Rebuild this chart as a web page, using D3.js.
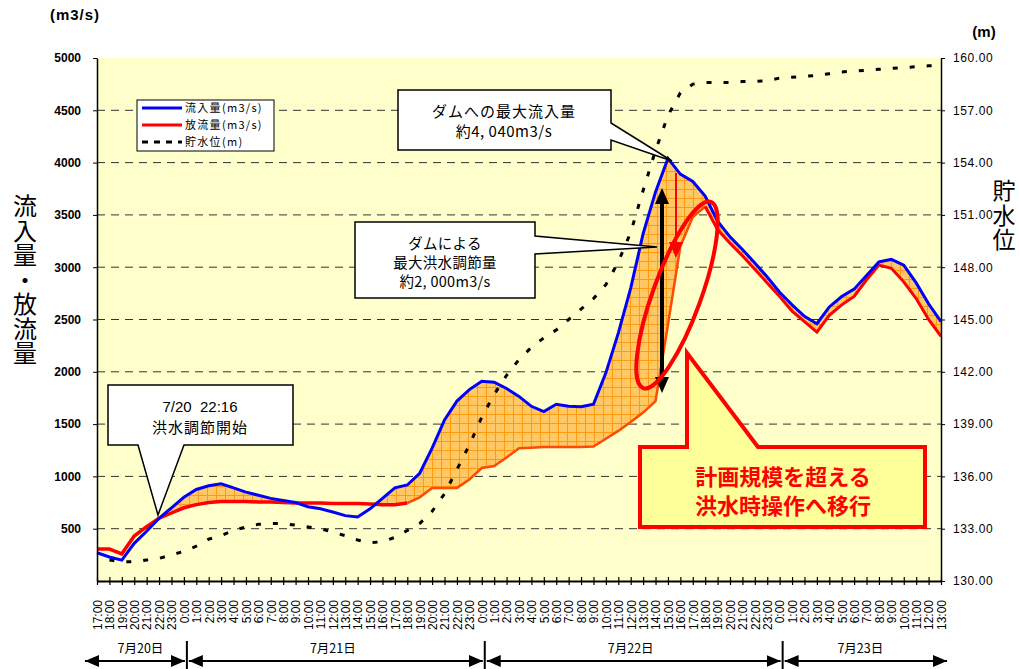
<!DOCTYPE html>
<html>
<head>
<meta charset="utf-8">
<script src="https://cdn.jsdelivr.net/npm/d3@7"></script>
<style>
  body { margin: 0; background: #fff; }
  svg text { font-family: "Liberation Sans", Arial, "Noto Sans CJK JP", sans-serif; }
  svg text.jp { font-family: "Noto Sans CJK JP", sans-serif; }
  svg text.vert { writing-mode: vertical-rl; }
</style>
</head>
<body>
<svg id="chart" width="1019" height="669"></svg>
<script>
// hourly labels, 7/20 17:00 -> 7/23 13:00
const timeLabels = [
  "17:00","18:00","19:00","20:00","21:00","22:00","23:00",
  "0:00","1:00","2:00","3:00","4:00","5:00","6:00","7:00","8:00","9:00","10:00","11:00","12:00",
  "13:00","14:00","15:00","16:00","17:00","18:00","19:00","20:00","21:00","22:00","23:00",
  "0:00","1:00","2:00","3:00","4:00","5:00","6:00","7:00","8:00","9:00","10:00","11:00","12:00",
  "13:00","14:00","15:00","16:00","17:00","18:00","19:00","20:00","21:00","22:00","23:00",
  "0:00","1:00","2:00","3:00","4:00","5:00","6:00","7:00","8:00","9:00","10:00","11:00","12:00","13:00"
];
const dateLabels = ["7月20日", "7月21日", "7月22日", "7月23日"];
const dayStart = [0, 7, 31, 55, 68];   // index of each day's first hour (last = end)

// inflow (m3/s)
const inflow = [
  270, 230, 200, 360, 475, 600, 700, 800, 875, 910,
  930, 890, 850, 820, 790, 770, 750, 710, 690, 660,
  625, 612, 690, 790, 890, 918, 1030, 1270, 1540, 1720,
  1830, 1910, 1900, 1840, 1765, 1670, 1620, 1690, 1670, 1665,
  1690, 1990, 2370, 2800, 3320, 3720, 4040, 3890, 3820, 3680,
  3440, 3290, 3170, 3040, 2906, 2760, 2640, 2530, 2460, 2620,
  2720, 2790, 2920, 3050, 3075, 3020, 2850, 2650, 2480
];
// outflow (m3/s)
const outflow = [
  305, 305, 260, 430, 520, 600, 650, 700, 730, 750,
  760, 760, 760, 755, 755, 750, 745, 745, 745, 740,
  740, 740, 735, 730, 730, 745, 800, 890, 890, 890,
  970, 1080, 1100, 1180, 1270, 1275, 1280, 1280, 1280, 1280,
  1285, 1360, 1435, 1520, 1610, 1720, 2450, 3200, 3480, 3580,
  3360, 3230, 3110, 2980, 2850, 2720, 2580, 2480, 2380, 2540,
  2640, 2720, 2880, 3020, 2990, 2860, 2700, 2500, 2340
];
// reservoir level (m)
const level = [
  null, 131.2, 131.1, 131.1, 131.2, 131.3, 131.5, 131.7, 132.0, 132.4,
  132.6, 132.9, 133.1, 133.25, 133.3, 133.3, 133.2, 133.1, 133.0, 132.8,
  132.6, 132.35, 132.2, 132.25, 132.5, 132.9, 133.3, 134.0, 135.0, 136.4,
  137.8, 139.4, 140.7, 141.8, 142.7, 143.4, 143.95, 144.4, 145.0, 145.6,
  146.2, 147.0, 148.3, 150.0, 152.4, 154.7, 156.7, 158.0, 158.5, 158.6,
  158.6, 158.6, 158.65, 158.65, 158.7, 158.85, 158.9, 158.95, 159.0, 159.1,
  159.2, 159.25, 159.3, 159.35, 159.4, 159.45, 159.5, 159.55, 159.55
];

const flowTicks = [500, 1000, 1500, 2000, 2500, 3000, 3500, 4000, 4500, 5000];
const levelTicks = [130, 133, 136, 139, 142, 145, 148, 151, 154, 157, 160];
const legendItems = ["流入量(m3/s)", "放流量(m3/s)", "貯水位(m)"];

const plotL = 97, plotR = 941, plotT = 58, plotB = 581;
const svg = d3.select("#chart");
const idx = d3.range(timeLabels.length);

const x = d3.scaleLinear().domain([0, timeLabels.length - 1]).range([plotL, plotR]);
const y = d3.scaleLinear().domain([0, 5000]).range([plotB, plotT]);
const yR = d3.scaleLinear().domain([130, 160]).range([plotB, plotT]);

const defs = svg.append("defs");
const pat = defs.append("pattern").attr("id", "hatch")
  .attr("width", 9).attr("height", 9).attr("patternUnits", "userSpaceOnUse");
pat.append("rect").attr("width", 9).attr("height", 9).attr("fill", "#FFC864");
pat.append("path").attr("d", "M0 0.5H9M0.5 0V9").attr("stroke", "#FF9A10").attr("stroke-width", 1);
defs.append("marker").attr("id", "dateArrow")
  .attr("viewBox", "0 0 14 12").attr("refX", 14).attr("refY", 6)
  .attr("markerWidth", 14).attr("markerHeight", 12).attr("markerUnits", "userSpaceOnUse")
  .attr("orient", "auto-start-reverse")
  .append("path").attr("d", "M0 0L14 6L0 12Z").attr("fill", "#000");

// plot background
svg.append("rect").attr("x", plotL).attr("y", plotT)
  .attr("width", plotR - plotL).attr("height", plotB - plotT).attr("fill", "#FFFFCC");

// gridlines
svg.append("g").selectAll("line")
  .data(flowTicks.filter(d => d < 5000)).join("line")
  .attr("x1", plotL).attr("x2", plotR)
  .attr("y1", d => y(d)).attr("y2", d => y(d))
  .attr("stroke", "#333").attr("stroke-width", 1).attr("stroke-dasharray", "8,6");

// regulated volume (between inflow and outflow)
const area = d3.area()
  .x(i => x(i))
  .y0(i => y(outflow[i]))
  .y1(i => y(Math.max(inflow[i], outflow[i])));
svg.append("path").datum(idx).attr("d", area).attr("fill", "url(#hatch)");

// reservoir level
const levelLine = d3.line().defined(i => level[i] != null).x(i => x(i)).y(i => yR(level[i]));
svg.append("path").datum(idx).attr("d", levelLine)
  .attr("fill", "none").attr("stroke", "#000").attr("stroke-width", 3)
  .attr("stroke-dasharray", "5,12");

// outflow
const outLine = d3.line().x(i => x(i)).y(i => y(outflow[i]));
svg.append("path").datum(idx.slice(0, 26)).attr("d", outLine)
  .attr("fill", "none").attr("stroke", "#FF0000").attr("stroke-width", 3.5);
svg.append("path").datum(idx.slice(25, 50)).attr("d", outLine)
  .attr("fill", "none").attr("stroke", "#FF4A00").attr("stroke-width", 2.5);
svg.append("path").datum(idx.slice(49)).attr("d", outLine)
  .attr("fill", "none").attr("stroke", "#FF0000").attr("stroke-width", 3);

// inflow
const inLine = d3.line().x(i => x(i)).y(i => y(inflow[i]));
svg.append("path").datum(idx).attr("d", inLine)
  .attr("fill", "none").attr("stroke", "#0000FF").attr("stroke-width", 3);

// axes
const gl = svg.append("g").attr("transform", `translate(${plotL},0)`)
  .call(d3.axisLeft(y).tickValues(flowTicks).tickFormat(d3.format("d"))
    .tickSize(4).tickSizeOuter(0).tickPadding(12));
gl.select(".domain").attr("stroke-width", 1.5);
gl.selectAll("text").attr("font-size", 12).attr("font-weight", "bold").attr("fill", "#000");

const gr = svg.append("g").attr("transform", `translate(${plotR},0)`)
  .call(d3.axisRight(yR).tickValues(levelTicks).tickFormat(d3.format(".2f"))
    .tickSize(4).tickSizeOuter(0).tickPadding(8));
gr.select(".domain").attr("stroke-width", 1.5);
gr.selectAll("text").attr("font-size", 12).attr("letter-spacing", 0.6).attr("fill", "#000");

const gb = svg.append("g").attr("transform", `translate(0,${plotB})`)
  .call(d3.axisBottom(x).tickValues(idx).tickFormat(i => timeLabels[i]).tickSize(4).tickSizeOuter(0));
gb.select(".domain").attr("stroke-width", 2);
gb.selectAll(".tick line").attr("y1", -4).attr("y2", 4).attr("stroke-width", 1.2);
gb.selectAll("text")
  .attr("font-size", 12).attr("fill", "#000")
  .attr("transform", "rotate(-90)")
  .attr("x", -19).attr("y", 0).attr("dy", "0.36em")
  .style("text-anchor", "end");

// date row
const dateRow = svg.append("g");
dateRow.selectAll("line.div").data(dayStart.slice(1, 4)).join("line")
  .attr("class", "div")
  .attr("x1", d => x(d) + 3).attr("x2", d => x(d) + 3)
  .attr("y1", 641).attr("y2", 669).attr("stroke", "#000").attr("stroke-width", 2);
dateRow.selectAll("line.arr").data(dateLabels).join("line")
  .attr("class", "arr")
  .attr("x1", (d, i) => i === 0 ? x(0) - 12 : x(dayStart[i]) + 5)
  .attr("x2", (d, i) => i === 3 ? x(dayStart[4]) + 6 : x(dayStart[i + 1]) + 1)
  .attr("y1", 661).attr("y2", 661)
  .attr("stroke", "#000").attr("stroke-width", 2)
  .attr("marker-start", "url(#dateArrow)").attr("marker-end", "url(#dateArrow)");
dateRow.selectAll("text").data(dateLabels).join("text")
  .attr("class", "jp")
  .attr("x", (d, i) => (x(dayStart[i]) + x(dayStart[i + 1])) / 2)
  .attr("y", 653).attr("text-anchor", "middle").attr("font-size", 12.5)
  .text(d => d);

// units and titles
svg.append("text").attr("x", 75).attr("y", 20).attr("text-anchor", "middle")
  .attr("font-size", 15).attr("font-weight", "bold").attr("letter-spacing", 1).text("(m3/s)");
svg.append("text").attr("x", 984).attr("y", 37).attr("text-anchor", "middle")
  .attr("font-size", 15).attr("font-weight", "bold").text("(m)");

// vertical axis titles
svg.append("text").attr("class", "jp vert").attr("x", 25).attr("y", 194)
  .attr("font-size", 24).attr("letter-spacing", 0.5).text("流入量・放流量");
svg.append("text").attr("class", "jp vert").attr("x", 1004).attr("y", 179)
  .attr("font-size", 23).attr("letter-spacing", 1.5).text("貯水位");

// legend
const lg = svg.append("g");
lg.append("rect").attr("x", 137).attr("y", 100).attr("width", 137).attr("height", 51)
  .attr("fill", "#fff").attr("stroke", "#000").attr("stroke-width", 1);
const legendStyle = [
  { stroke: "#0000FF", dash: null },
  { stroke: "#FF0000", dash: null },
  { stroke: "#000", dash: "6,6" }
];
legendItems.forEach((t, i) => {
  const ly = 108 + i * 17;
  lg.append("line").attr("x1", 142).attr("x2", 182).attr("y1", ly).attr("y2", ly)
    .attr("stroke", legendStyle[i].stroke).attr("stroke-width", 3)
    .attr("stroke-dasharray", legendStyle[i].dash);
  lg.append("text").attr("class", "jp").attr("x", 185).attr("y", ly).attr("dy", "0.36em")
    .attr("font-size", 11).attr("letter-spacing", 1.3).text(t);
});

// callouts
const ann = svg.append("g");
ann.append("path")
  .attr("d", "M108,385H293V445H184L158,515L138,445H108Z")
  .attr("fill", "#fff").attr("stroke", "#000").attr("stroke-width", 1.5);
ann.append("text").attr("x", 200).attr("y", 412).attr("text-anchor", "middle")
  .attr("font-size", 15).text("7/20\u00a0\u00a022:16");
ann.append("text").attr("class", "jp").attr("x", 200).attr("y", 433).attr("text-anchor", "middle")
  .attr("font-size", 15).attr("letter-spacing", 1).text("洪水調節開始");

ann.append("path")
  .attr("d", "M398,90H611V123L672,161L611,140V150H398Z")
  .attr("fill", "#fff").attr("stroke", "#000").attr("stroke-width", 1.5);
ann.append("text").attr("class", "jp").attr("x", 504).attr("y", 117).attr("text-anchor", "middle")
  .attr("font-size", 15).attr("letter-spacing", 1).text("ダムへの最大流入量");
ann.append("text").attr("class", "jp").attr("x", 504).attr("y", 137).attr("text-anchor", "middle")
  .attr("font-size", 15).attr("letter-spacing", 0.5).text("約4,\u00a0040m3/s");

ann.append("path")
  .attr("d", "M355,222H535V236L657,247L535,254V298H355Z")
  .attr("fill", "#fff").attr("stroke", "#000").attr("stroke-width", 1.5);
["ダムによる", "最大洪水調節量", "約2,\u00a0000m3/s"].forEach((t, i) => {
  ann.append("text").attr("class", "jp").attr("x", 445).attr("y", 249 + i * 19)
    .attr("text-anchor", "middle").attr("font-size", 14.5).attr("letter-spacing", 0.3).text(t);
});

// max regulation arrow
ann.append("line").attr("x1", 662).attr("x2", 662).attr("y1", 200).attr("y2", 381)
  .attr("stroke", "#000").attr("stroke-width", 4);
ann.append("path").attr("d", "M662,188L669,204L655,204Z").attr("fill", "#000");
ann.append("path").attr("d", "M662,393L669,377L655,377Z").attr("fill", "#000");

// thin red arrow at peak
ann.append("line").attr("x1", 676).attr("x2", 676).attr("y1", 173).attr("y2", 246)
  .attr("stroke", "#FF0000").attr("stroke-width", 2);
ann.append("path").attr("d", "M676,258L683,242L669,242Z").attr("fill", "#FF0000");

// red ellipse
ann.append("ellipse").attr("cx", 677).attr("cy", 295).attr("rx", 24).attr("ry", 99)
  .attr("transform", "rotate(20,677,295)")
  .attr("fill", "none").attr("stroke", "#FF0000").attr("stroke-width", 4);

// red callout
ann.append("path")
  .attr("d", "M640,447H687V353L758,447H925V527H640Z")
  .attr("fill", "#FFFF99").attr("stroke", "#FF0000").attr("stroke-width", 4);
ann.append("text").attr("class", "jp").attr("x", 783).attr("y", 485).attr("text-anchor", "middle")
  .attr("font-size", 22).attr("font-weight", "bold").attr("fill", "#FF0000").text("計画規模を超える");
ann.append("text").attr("class", "jp").attr("x", 783).attr("y", 514).attr("text-anchor", "middle")
  .attr("font-size", 22).attr("font-weight", "bold").attr("fill", "#FF0000").text("洪水時操作へ移行");
</script>
</body>
</html>
